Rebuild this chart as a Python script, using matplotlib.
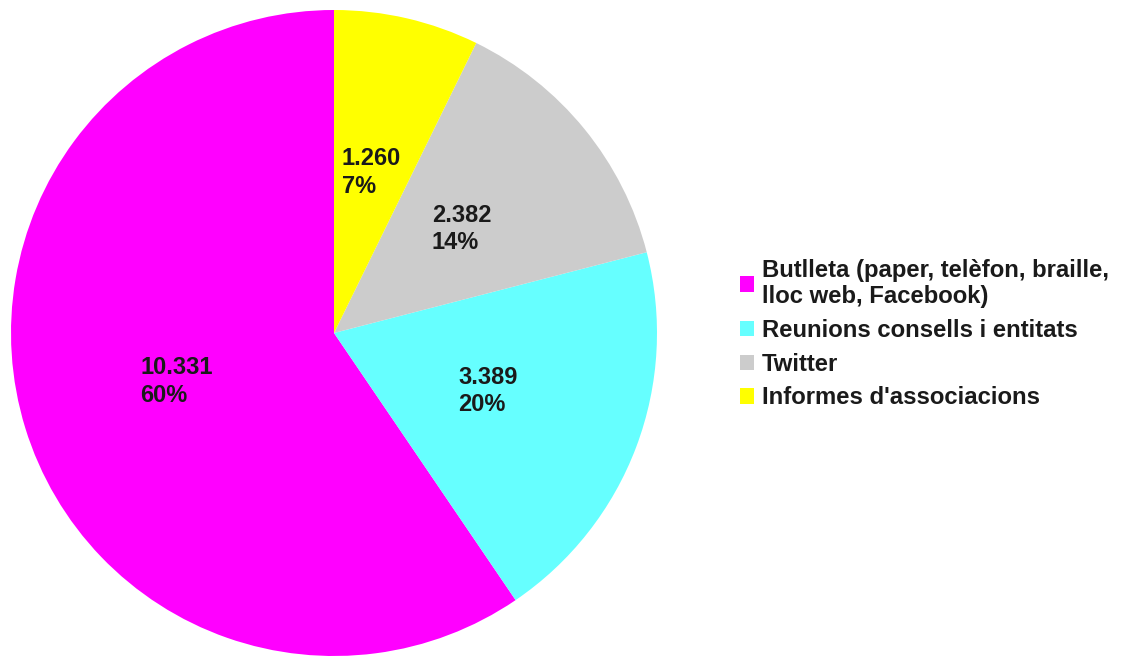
import numpy as np
import matplotlib
matplotlib.use("Agg")
import matplotlib.pyplot as plt

plt.rcParams['font.family'] = ['Liberation Sans', 'DejaVu Sans']

# data
categories = ["Butlleta (paper, telèfon, braille,\nlloc web, Facebook)",
              "Reunions consells i entitats",
              "Twitter",
              "Informes d'associacions"]
values = [10331, 3389, 2382, 1260]
value_labels = ["10.331", "3.389", "2.382", "1.260"]
colors = ["#ff00ff", "#66ffff", "#cccccc", "#ffff00"]

W, H = 1129, 656
R = 323.0
cx, cy = 334.0, 333.0

fig = plt.figure(figsize=(W / 100, H / 100), dpi=100)
ax = fig.add_axes([0, 0, 1, 1])
wedges, _ = ax.pie(values, colors=colors, startangle=90, counterclock=True,
                   radius=1.0, wedgeprops=dict(linewidth=0))
ax.set_xlim(-cx / R, (W - cx) / R)
ax.set_ylim((cy - H) / R, cy / R)
ax.set_aspect('equal')
ax.axis('off')

total = sum(values)
for w, v, vl in zip(wedges, values, value_labels):
    ang = np.deg2rad((w.theta1 + w.theta2) / 2)
    r = 0.51
    pct = "%d%%" % round(100.0 * v / total)
    ax.text(r * np.cos(ang), r * np.sin(ang), vl + "\n" + pct,
            ha='center', va='center', multialignment='left',
            fontsize=17, fontweight='bold', color='#1a1a1a',
            linespacing=1.25)

leg = fig.legend(wedges, categories, loc='center left',
                 bbox_to_anchor=(740 / W, 1 - 334 / H), frameon=False,
                 prop=dict(size=17.2, weight='bold'),
                 handlelength=0.6, handleheight=0.6, handletextpad=0.3,
                 labelspacing=0.45, borderpad=0, borderaxespad=0)
for t in leg.get_texts():
    t.set_color('#1a1a1a')
    t.set_linespacing(1.2)

fig.savefig("out.png", dpi=100)
